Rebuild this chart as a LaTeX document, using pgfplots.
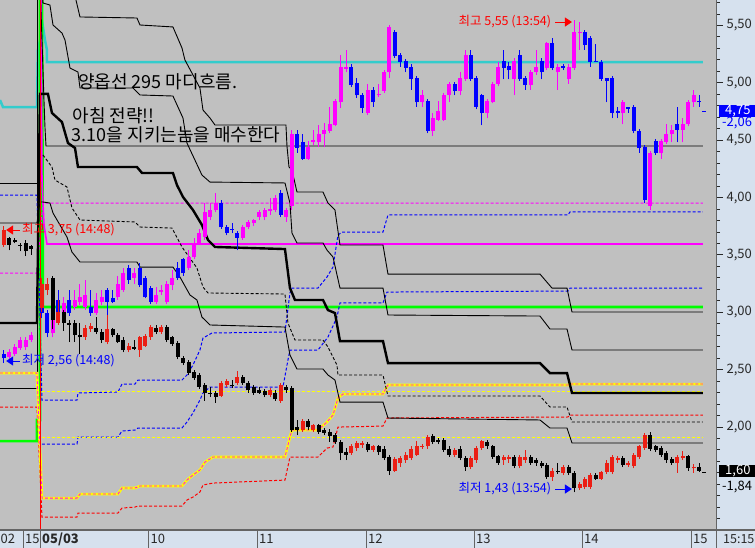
\documentclass[border=0pt]{standalone}
\usepackage{fontspec}
\setmainfont{Noto Sans CJK KR}
\usepackage{pgfplots}
\pgfplotsset{compat=1.18}
\usepackage{pgfplotstable}
\usetikzlibrary{arrows.meta}

\definecolor{plotbg}{RGB}{192,192,192}
\definecolor{panelbg}{RGB}{214,225,238}
\definecolor{framec}{RGB}{100,100,100}
\definecolor{tickcol}{RGB}{40,40,40}
\definecolor{mag}{RGB}{255,0,255}
\definecolor{blu}{RGB}{0,0,255}
\definecolor{redc}{RGB}{235,30,20}
\definecolor{cyanl}{RGB}{51,204,204}
\definecolor{grn}{RGB}{0,255,0}
\definecolor{yel}{RGB}{255,255,0}

\newcommand\annfont{\fontsize{18}{20}\selectfont}
\newcommand\lblfont{\fontsize{12.5}{14}\selectfont}
\newcommand\tickfont{\fontsize{13}{13}\selectfont}

% candles: k, body low, body high, low, high
% upper series (call): magenta = up, blue = down
\pgfplotstableread{
k bl bh lo hi
-6 2.61 2.65 2.58 2.68
-5 2.64 2.70 2.62 2.72
-4 2.69 2.76 2.67 2.78
-3 2.70 2.76 2.67 2.78
-2 2.76 2.80 2.74 2.83
2 2.82 3.00 2.78 3.06
4 2.99 3.08 2.97 3.13
6 3.05 3.11 3.02 3.19
7 3.09 3.13 3.06 3.25
8 3.05 3.15 3.02 3.28
10 2.99 3.11 2.98 3.17
11 3.09 3.13 3.06 3.19
14 3.13 3.25 3.11 3.32
15 3.19 3.34 3.18 3.39
17 3.30 3.34 3.25 3.39
21 3.09 3.15 3.07 3.22
22 3.18 3.19 3.15 3.24
23 3.09 3.25 3.07 3.27
24 3.24 3.30 3.19 3.37
27 3.39 3.48 3.37 3.54
28 3.48 3.60 3.46 3.65
29 3.60 3.69 3.59 3.73
30 3.66 3.87 3.63 3.95
31 3.83 3.89 3.80 3.95
32 3.89 3.95 3.87 4.04
37 3.65 3.74 3.63 3.76
38 3.74 3.79 3.73 3.80
39 3.78 3.80 3.75 3.81
40 3.83 3.87 3.80 3.89
41 3.83 3.89 3.80 3.91
42 3.88 3.90 3.85 4.00
43 3.89 4.00 3.87 4.02
45 3.83 3.89 3.79 3.91
46 3.93 4.55 3.89 4.59
49 4.34 4.44 4.33 4.49
50 4.48 4.50 4.46 4.59
51 4.48 4.55 4.44 4.63
52 4.55 4.59 4.44 4.65
53 4.58 4.64 4.56 4.79
54 4.63 4.84 4.62 4.86
55 4.83 5.14 4.78 5.24
56 5.12 5.14 5.09 5.29
60 4.74 4.94 4.72 4.99
62 4.89 4.90 4.88 4.99
63 4.93 5.09 4.91 5.11
64 5.09 5.49 5.04 5.50
70 4.83 4.89 4.79 4.94
72 4.58 4.69 4.54 4.74
73 4.68 4.75 4.67 4.84
74 4.68 4.89 4.67 4.91
75 4.89 4.99 4.83 5.01
77 4.93 5.04 4.89 5.09
78 5.03 5.24 5.02 5.29
82 4.74 4.84 4.69 4.86
83 4.83 4.99 4.82 5.01
84 4.99 5.14 4.97 5.18
87 5.03 5.19 4.89 5.22
90 4.98 5.09 4.94 5.11
91 5.09 5.14 5.07 5.29
93 5.13 5.35 5.11 5.36
95 5.09 5.14 4.94 5.16
97 5.03 5.14 4.99 5.16
98 5.13 5.44 5.11 5.55
99 5.43 5.44 5.29 5.53
107 4.74 4.83 4.64 4.85
112 3.93 4.39 3.89 4.41
114 4.39 4.49 4.34 4.51
115 4.48 4.55 4.47 4.64
116 4.55 4.59 4.48 4.63
118 4.59 4.64 4.48 4.69
119 4.64 4.83 4.62 4.85
120 4.83 4.89 4.79 4.94
}\callUp

\pgfplotstableread{
k bl bh lo hi
-7 2.60 2.64 2.56 2.67
0 2.99 3.11 2.95 3.19
1 2.82 2.99 2.78 3.02
3 2.99 3.11 2.97 3.19
5 2.99 3.11 2.97 3.19
9 2.99 3.05 2.97 3.19
12 3.09 3.19 2.87 3.21
13 3.09 3.12 3.08 3.19
16 3.28 3.39 3.25 3.41
18 3.24 3.39 3.22 3.43
19 3.13 3.30 3.12 3.32
20 3.09 3.21 3.07 3.23
25 3.30 3.39 3.28 3.44
26 3.34 3.46 3.32 3.47
33 3.74 3.95 3.73 3.98
34 3.69 3.74 3.67 3.76
35 3.72 3.73 3.69 3.78
36 3.65 3.69 3.54 3.71
44 3.85 4.04 3.83 4.07
47 4.43 4.55 4.39 4.59
48 4.34 4.48 4.33 4.55
57 4.98 5.14 4.96 5.16
58 4.89 5.00 4.87 5.04
59 4.78 4.89 4.74 4.91
61 4.83 4.94 4.79 4.96
65 5.23 5.44 5.22 5.46
66 5.18 5.24 5.14 5.26
67 5.13 5.19 5.09 5.21
68 5.03 5.14 4.94 5.16
69 4.83 5.04 4.79 5.06
71 4.58 4.84 4.56 4.86
76 4.93 4.99 4.89 5.01
79 5.03 5.24 5.02 5.29
80 4.79 5.04 4.77 5.06
81 4.74 4.89 4.63 4.90
85 5.13 5.19 5.03 5.29
86 5.11 5.15 5.03 5.18
88 5.03 5.24 5.02 5.29
89 4.98 5.04 4.94 5.06
92 5.09 5.19 5.03 5.22
94 5.13 5.35 5.11 5.39
96 5.13 5.15 5.11 5.16
100 5.33 5.44 5.29 5.46
101 5.18 5.39 5.14 5.41
102 5.18 5.19 5.18 5.34
103 5.03 5.18 5.02 5.20
104 5.02 5.04 4.83 5.04
105 4.74 5.04 4.69 5.06
106 4.74 4.75 4.69 4.79
108 4.77 4.79 4.74 4.79
109 4.58 4.79 4.56 4.81
110 4.43 4.58 4.39 4.60
111 3.98 4.44 3.95 4.46
113 4.39 4.49 4.37 4.51
117 4.59 4.64 4.48 4.79
121 4.83 4.84 4.79 4.89
}\callDown

% lower series (put): red = up, black = down
\pgfplotstableread{
k bl bh lo hi
-7 3.59 3.72 3.57 3.75
0 3.04 3.25 3.00 3.30
1 3.19 3.25 3.15 3.30
3 2.91 3.00 2.89 3.11
8 2.78 2.86 2.76 2.89
9 2.85 2.88 2.83 2.91
12 2.74 2.85 2.72 2.98
16 2.67 2.71 2.65 2.73
18 2.67 2.78 2.61 2.79
19 2.71 2.79 2.70 2.81
20 2.78 2.87 2.76 2.89
22 2.83 2.87 2.81 2.89
33 2.27 2.38 2.26 2.40
34 2.37 2.40 2.35 2.42
36 2.38 2.44 2.37 2.49
42 2.28 2.32 2.26 2.34
44 2.23 2.37 2.21 2.38
48 1.97 2.05 1.96 2.07
50 1.97 2.02 1.96 2.03
57 1.77 1.83 1.76 1.85
58 1.82 1.86 1.79 1.88
59 1.84 1.86 1.82 1.88
61 1.80 1.83 1.78 1.84
65 1.62 1.72 1.61 1.74
66 1.69 1.73 1.65 1.75
67 1.71 1.76 1.69 1.78
68 1.73 1.81 1.71 1.83
69 1.76 1.83 1.75 1.88
70 1.825 1.835 1.81 1.85
71 1.83 1.91 1.81 1.93
76 1.76 1.80 1.74 1.82
79 1.65 1.73 1.63 1.75
80 1.71 1.82 1.69 1.83
81 1.82 1.88 1.80 1.89
85 1.71 1.74 1.67 1.76
86 1.72 1.74 1.69 1.76
88 1.66 1.74 1.64 1.76
89 1.71 1.74 1.69 1.80
94 1.56 1.62 1.53 1.64
96 1.60 1.65 1.58 1.67
99 1.47 1.50 1.45 1.52
100 1.48 1.55 1.46 1.56
101 1.48 1.58 1.46 1.60
103 1.55 1.61 1.54 1.62
104 1.61 1.69 1.59 1.71
105 1.61 1.74 1.59 1.76
106 1.71 1.73 1.69 1.75
108 1.67 1.69 1.65 1.70
109 1.66 1.76 1.64 1.77
110 1.74 1.83 1.72 1.84
111 1.82 1.93 1.80 1.95
117 1.69 1.74 1.60 1.76
118 1.73 1.75 1.71 1.79
120 1.64 1.65 1.60 1.68
}\putUp

\pgfplotstableread{
k bl bh lo hi
-6 3.59 3.65 3.54 3.66
-5 3.61 3.63 3.60 3.65
-4 3.58 3.59 3.53 3.60
-3 3.53 3.60 3.49 3.63
-2 3.55 3.58 3.50 3.59
2 2.93 3.30 2.85 3.32
4 2.91 3.00 2.84 3.02
5 2.89 2.91 2.74 2.93
6 2.80 2.91 2.74 2.93
7 2.78 2.80 2.64 2.91
10 2.83 2.86 2.81 2.96
11 2.76 2.83 2.73 2.85
13 2.80 2.85 2.78 2.86
14 2.74 2.80 2.73 2.82
15 2.67 2.76 2.65 2.78
17 2.68 2.70 2.67 2.76
21 2.83 2.86 2.81 2.89
23 2.76 2.87 2.74 2.89
24 2.72 2.78 2.71 2.79
25 2.61 2.73 2.59 2.75
26 2.56 2.60 2.54 2.62
27 2.47 2.57 2.45 2.58
28 2.43 2.48 2.41 2.50
29 2.35 2.45 2.33 2.47
30 2.30 2.37 2.23 2.38
31 2.29 2.30 2.26 2.35
32 2.26 2.30 2.21 2.31
35 2.36 2.37 2.34 2.41
37 2.38 2.44 2.37 2.45
38 2.32 2.38 2.30 2.40
39 2.30 2.35 2.28 2.37
40 2.30 2.32 2.29 2.35
41 2.28 2.31 2.26 2.33
43 2.24 2.30 2.23 2.32
45 2.32 2.35 2.30 2.37
46 1.97 2.34 1.96 2.36
47 1.97 2.00 1.93 2.06
49 2.00 2.05 1.97 2.07
51 1.96 2.02 1.94 2.03
52 1.95 1.97 1.93 1.99
53 1.92 1.96 1.87 1.98
54 1.87 1.93 1.85 1.95
55 1.77 1.87 1.71 1.89
56 1.76 1.78 1.71 1.82
60 1.80 1.85 1.78 1.87
62 1.78 1.83 1.76 1.84
63 1.73 1.81 1.71 1.83
64 1.62 1.74 1.58 1.76
72 1.87 1.92 1.85 1.94
73 1.87 1.89 1.85 1.90
74 1.80 1.89 1.78 1.90
75 1.76 1.81 1.74 1.83
77 1.73 1.81 1.71 1.83
78 1.65 1.73 1.62 1.75
82 1.83 1.87 1.81 1.89
83 1.74 1.83 1.72 1.84
84 1.69 1.75 1.67 1.76
87 1.66 1.74 1.64 1.76
90 1.69 1.74 1.67 1.76
91 1.69 1.71 1.66 1.73
92 1.66 1.69 1.64 1.70
93 1.56 1.67 1.55 1.69
95 1.61 1.62 1.59 1.69
97 1.60 1.65 1.58 1.67
98 1.47 1.60 1.43 1.62
102 1.55 1.58 1.54 1.60
107 1.67 1.73 1.65 1.75
112 1.81 1.93 1.79 1.96
113 1.80 1.83 1.78 1.84
114 1.76 1.82 1.74 1.83
115 1.71 1.77 1.69 1.79
116 1.69 1.72 1.67 1.74
119 1.64 1.75 1.62 1.76
121 1.62 1.65 1.61 1.69
}\putDown

\pgfplotsset{
  wick/.style={draw=none, mark=none, forget plot,
    error bars/.cd, y dir=plus, y explicit, error mark=none,
    error bar style={line width=1pt, draw=#1}},
  body/.style={draw=none, mark=none, forget plot,
    error bars/.cd, y dir=plus, y explicit, error mark=none,
    error bar style={line width=4pt, draw=#1}},
  thin/.style={black, line width=0.9pt},
  thinD/.style={black, line width=0.9pt, dash pattern=on 3pt off 2pt},
}

\begin{document}
\begin{tikzpicture}
\useasboundingbox (0pt,0pt) rectangle (755pt,548pt);
\fill[panelbg] (0pt,0pt) rectangle (755pt,548pt);
\begin{axis}[
  at={(0pt,18pt)}, anchor=south west,
  width=716pt, height=530pt, scale only axis,
  xmin=-7.73, xmax=124.13, ymin=1.102, ymax=5.722,
  axis background/.style={fill=plotbg},
  axis line style={draw=none},
  xtick=\empty,
  ytick={2,2.5,3,3.5,4,4.5,5,5.5},
  minor ytick={1.2,1.3,1.4,1.5,1.6,1.7,1.8,1.9,2.1,2.2,2.3,2.4,2.6,2.7,2.8,2.9,3.1,3.2,3.3,3.4,3.6,3.7,3.8,3.9,4.1,4.2,4.3,4.4,4.6,4.7,4.8,4.9,5.1,5.2,5.3,5.4,5.6,5.7},
  ytick pos=right, yticklabel pos=right,
  tick align=outside,
  major tick length=7pt, minor tick length=4pt,
  tick style={color=tickcol, line width=0.9pt},
  yticklabel style={font=\tickfont, text=tickcol,
    /pgf/number format/.cd, fixed, fixed zerofill, precision=2, use comma, assume math mode=true},
]
% previous-day levels and the jump at the open
\addplot[cyanl, line width=2.5pt] coordinates {(-7.73,4.850)(-7.18,4.789)(-0.92,4.789)(-0.74,5.286)(0.18,5.487)(0.55,5.373)(0.92,5.286)(0.92,5.181)(121.73,5.181)};
\addplot[thin] coordinates {(-7.73,4.127)(-0.92,4.127)(-0.92,5.9)};
\addplot[thin] coordinates {(-7.73,2.340)(-0.92,2.340)(-0.92,5.9)};
\addplot[grn, line width=2.6pt] coordinates {(-7.73,1.877)(-0.92,1.877)(-0.92,2.061)(-0.37,2.061)(-0.37,5.9)(0,5.9)(0.18,3.046)(121.73,3.046)};
\addplot[mag, line width=1.6pt] coordinates {(-0.2,5.9)(0,4.153)(0.37,3.761)(0.92,3.595)(121.73,3.595)};
\addplot[mag, line width=1pt, dash pattern=on 3pt off 2pt] coordinates {(-7.73,3.342)(-0.92,3.342)(0.18,3.952)(121.73,3.952)};
\addplot[blu, line width=1pt, dash pattern=on 3pt off 2pt] coordinates {(-7.73,4.022)(-0.92,4.022)(0,2.235)(6.45,2.235)(6.63,2.296)(14.0,2.305)(14.73,2.374)(17.13,2.374)(17.68,2.409)(25.78,2.409)(26.70,2.453)(27.81,2.540)(29.09,2.671)(29.65,2.775)(31.31,2.819)(44.75,2.828)(45.67,3.168)(46.04,3.211)(50.83,3.211)(52.49,3.307)(53.59,3.394)(54.51,3.673)(55.25,3.699)(62.80,3.699)(63.72,3.848)(96.87,3.848)(97.24,3.874)(121.73,3.874)};
\addplot[blu, line width=1pt, dash pattern=on 3pt off 2pt] coordinates {(0,1.851)(6.45,1.851)(6.63,1.912)(14.0,1.912)(14.73,1.965)(17.13,1.973)(17.68,1.991)(25.78,1.991)(26.70,2.043)(27.81,2.122)(29.09,2.235)(29.65,2.296)(30.94,2.348)(44.38,2.348)(45.30,2.584)(45.67,2.671)(50.83,2.671)(52.67,2.784)(54.33,2.958)(54.88,3.081)(62.80,3.081)(63.54,3.176)(96.87,3.185)(97.24,3.211)(121.73,3.211)};
\addplot[red, line width=1pt, dash pattern=on 3pt off 2pt] coordinates {(-7.73,2.174)(-0.92,2.174)(0,1.215)(6.45,1.215)(6.63,1.250)(14.0,1.250)(14.73,1.293)(17.13,1.302)(17.68,1.311)(25.78,1.311)(26.70,1.363)(27.81,1.389)(29.09,1.433)(29.65,1.494)(31.49,1.511)(44.75,1.537)(45.67,1.738)(50.83,1.738)(52.49,1.816)(53.59,1.825)(54.51,1.999)(62.80,2.008)(63.54,2.078)(96.87,2.087)(97.24,2.104)(121.73,2.104)};
\addplot[yel, line width=1pt, dash pattern=on 3pt off 2pt] coordinates {(0,2.305)(121.73,2.305)};
\addplot[yel, line width=1pt, dash pattern=on 3pt off 2pt] coordinates {(0,1.912)(121.73,1.912)};
\addplot[yel, line width=2.6pt] coordinates {(-7.73,2.470)(-0.92,2.470)(0,1.380)(6.45,1.380)(7.00,1.415)(14.0,1.415)(14.73,1.468)(17.13,1.468)(18.05,1.485)(25.78,1.485)(26.70,1.537)(27.81,1.581)(29.09,1.625)(30.02,1.694)(31.49,1.738)(44.75,1.738)(45.67,1.912)(46.04,1.973)(50.83,1.973)(52.49,2.043)(53.59,2.104)(54.51,2.252)(55.43,2.287)(62.80,2.287)(63.72,2.366)(96.87,2.366)(97.24,2.374)(121.73,2.374)};
\addplot[mag, line width=0.8pt, dash pattern=on 3pt off 2pt] coordinates {(-7.73,2.470)(-0.92,2.470)(0,1.380)(6.45,1.380)(7.00,1.415)(14.0,1.415)(14.73,1.468)(17.13,1.468)(18.05,1.485)(25.78,1.485)(26.70,1.537)(27.81,1.581)(29.09,1.625)(30.02,1.694)(31.49,1.738)(44.75,1.738)(45.67,1.912)(46.04,1.973)(50.83,1.973)(52.49,2.043)(53.59,2.104)(54.51,2.252)(55.43,2.287)(62.80,2.287)(63.72,2.366)(96.87,2.366)(97.24,2.374)(121.73,2.374)};
% stepped black levels
\addplot[thin] coordinates {(-0.37,5.9)(0.37,4.850)(0.55,4.615)(0.74,4.449)(121.73,4.449)};
\addplot[thin] coordinates {(0,5.9)(0.18,5.696)(1.47,5.678)(2.03,5.504)(3.68,5.434)(4.24,5.373)(5.16,5.129)(6.63,5.094)(7.00,4.955)(16.76,4.955)(18.05,4.894)(24.12,4.885)(25.97,4.693)(26.70,4.475)(29.46,4.196)(30.94,4.135)(44.75,4.127)(45.67,3.952)(46.04,3.691)(46.96,3.604)(51.75,3.604)(52.49,3.542)(53.59,3.482)(54.88,3.211)(62.80,3.211)(63.72,2.976)(91.71,2.967)(93.55,2.854)(96.69,2.854)(97.61,2.671)(121.73,2.671)};
\addplot[thin] coordinates {(5.89,5.809)(6.26,5.722)(7.00,5.574)(17.49,5.565)(18.05,5.504)(24.12,5.487)(25.78,5.304)(26.33,5.199)(29.09,4.955)(29.65,4.763)(30.94,4.693)(31.86,4.632)(44.93,4.632)(45.12,4.449)(45.49,4.266)(46.04,4.240)(46.96,4.048)(51.75,4.048)(52.67,3.952)(53.96,3.891)(54.88,3.586)(62.80,3.586)(63.72,3.333)(91.71,3.333)(93.92,3.211)(96.69,3.211)(97.61,3.002)(121.73,3.002)};
\addplot[thin] coordinates {(-7.73,3.778)(-0.92,3.778)(-0.37,3.961)(0.18,3.961)(1.47,3.952)(2.03,3.865)(4.60,3.656)(5.52,3.525)(7.00,3.438)(17.49,3.438)(18.05,3.394)(24.12,3.394)(25.41,3.307)(27.26,3.150)(28.54,3.107)(29.46,2.958)(30.94,2.889)(44.75,2.871)(45.67,2.627)(46.96,2.505)(51.75,2.505)(52.67,2.453)(53.96,2.409)(54.88,2.217)(62.80,2.217)(63.72,2.078)(91.71,2.061)(93.55,1.991)(96.69,1.991)(97.61,1.860)(121.73,1.860)};
\addplot[thinD] coordinates {(0.18,4.371)(1.84,4.266)(2.39,4.153)(3.31,4.127)(4.60,4.092)(5.52,3.909)(7.00,3.804)(17.13,3.787)(18.05,3.743)(23.94,3.734)(25.78,3.569)(28.54,3.386)(29.65,3.220)(30.57,3.168)(44.75,3.159)(45.30,2.906)(46.59,2.758)(51.75,2.758)(52.67,2.697)(54.33,2.540)(54.51,2.453)(62.80,2.453)(63.72,2.270)(91.71,2.270)(93.55,2.174)(96.69,2.174)(97.61,2.043)(121.73,2.043)};
\addplot[black, line width=2.4pt] coordinates {(-7.73,2.906)(-0.92,2.906)(-0.37,4.903)(1.10,4.903)(1.84,4.737)(3.68,4.658)(4.79,4.475)(6.08,4.432)(6.63,4.266)(17.49,4.266)(18.42,4.214)(24.12,4.214)(24.86,4.109)(25.97,4.005)(27.81,3.891)(29.46,3.761)(30.57,3.630)(31.86,3.569)(44.75,3.551)(45.67,3.211)(46.59,3.107)(51.75,3.107)(52.67,3.019)(53.96,2.993)(54.88,2.749)(62.80,2.749)(63.72,2.557)(91.71,2.557)(93.55,2.470)(96.69,2.470)(97.61,2.296)(121.73,2.296)};
% day divider
\addplot[red, line width=0.8pt] coordinates {(-0.37,1.0)(-0.37,6.0)};
% candles
\addplot[wick=mag] table[x=k, y=lo, y error plus expr=\thisrow{hi}-\thisrow{lo}] {\callUp};
\addplot[body=mag] table[x=k, y=bl, y error plus expr=\thisrow{bh}-\thisrow{bl}] {\callUp};
\addplot[wick=blu] table[x=k, y=lo, y error plus expr=\thisrow{hi}-\thisrow{lo}] {\callDown};
\addplot[body=blu] table[x=k, y=bl, y error plus expr=\thisrow{bh}-\thisrow{bl}] {\callDown};
\addplot[wick=redc] table[x=k, y=lo, y error plus expr=\thisrow{hi}-\thisrow{lo}] {\putUp};
\addplot[body=redc] table[x=k, y=bl, y error plus expr=\thisrow{bh}-\thisrow{bl}] {\putUp};
\addplot[wick=black] table[x=k, y=lo, y error plus expr=\thisrow{hi}-\thisrow{lo}] {\putDown};
\addplot[body=black] table[x=k, y=bl, y error plus expr=\thisrow{bh}-\thisrow{bl}] {\putDown};
% last-price ticks
\addplot[blu, line width=1pt] coordinates {(121.6,4.75)(122.3,4.75)};
\addplot[black, line width=1pt] coordinates {(121.6,1.60)(122.3,1.60)};
% high / low markers
\addplot[red, line width=1pt, -{Triangle[length=7pt,width=9pt]}] coordinates {(94.5,5.53)(97.6,5.53)};
\addplot[blu, line width=1pt, -{Triangle[length=7pt,width=9pt]}] coordinates {(94.5,1.459)(97.6,1.459)};
\addplot[red, line width=1pt, -{Triangle[length=7pt,width=9pt]}] coordinates {(-4.05,3.717)(-6.6,3.717)};
\addplot[blu, line width=1pt, -{Triangle[length=7pt,width=9pt]}] coordinates {(-4.05,2.575)(-6.6,2.575)};
\node[anchor=east, inner sep=0pt, text=red, font=\lblfont] at (axis cs:93.8,5.53) {최고 5,55 (13:54)};
\node[anchor=east, inner sep=0pt, text=blu, font=\lblfont] at (axis cs:93.8,1.459) {최저 1,43 (13:54)};
\node[anchor=west, inner sep=0pt, text=red, font=\lblfont] at (axis cs:-3.68,3.717) {최고 3,75 (14:48)};
\node[anchor=west, inner sep=0pt, text=blu, font=\lblfont] at (axis cs:-3.68,2.575) {최저 2,56 (14:48)};
% notes
\node[anchor=west, inner sep=0pt, font=\annfont] at (axis cs:6.63,5.011) {양옵선 295 마디흐름.};
\node[anchor=west, inner sep=0pt, font=\annfont] at (axis cs:5.6,4.711) {아침 전략!!};
\node[anchor=west, inner sep=0pt, font=\annfont] at (axis cs:5.47,4.545) {3.10을 지키는놈을 매수한다};
\end{axis}
% frame of plot area
\draw[framec, line width=1.5pt] (716.5pt,0pt) -- (716.5pt,548pt);
\draw[framec, line width=1.5pt] (0pt,18pt) -- (755pt,18pt);
\foreach \xx in {23,40,148,257,366,474,582,691}
  \draw[framec, line width=1pt] (\xx pt,0pt) -- (\xx pt,18pt);
% time labels
\begin{scope}[every node/.style={inner sep=0pt, font=\tickfont, text=tickcol}]
\node[anchor=west] at (0.5pt,9pt) {02};
\node[anchor=west] at (25pt,9pt) {15};
\node[anchor=west] at (42pt,9pt) {\bfseries 05/03};
\node[anchor=west] at (150.5pt,9pt) {10};
\node[anchor=west] at (259pt,9pt) {11};
\node[anchor=west] at (368pt,9pt) {12};
\node[anchor=west] at (476pt,9pt) {13};
\node[anchor=west] at (584pt,9pt) {14};
\node[anchor=west] at (693pt,9pt) {15};
\node[anchor=west, font=\fontsize{12.5}{13}\selectfont] at (723pt,9pt) {15:15};
\end{scope}
% current prices
\fill[blu] (719pt,431pt) rectangle (755pt,443pt);
\node[anchor=west, inner sep=0pt, text=white, font=\tickfont] at (725pt,437pt) {4,75};
\node[anchor=west, inner sep=0pt, text=blu, font=\tickfont] at (722pt,425pt) {-2,06};
\fill[black] (719pt,70.5pt) rectangle (755pt,82.5pt);
\node[anchor=west, inner sep=0pt, text=white, font=\tickfont] at (725pt,76.5pt) {1,60};
\node[anchor=west, inner sep=0pt, text=black, font=\tickfont] at (722pt,61pt) {-1,84};
\end{tikzpicture}
\end{document}
